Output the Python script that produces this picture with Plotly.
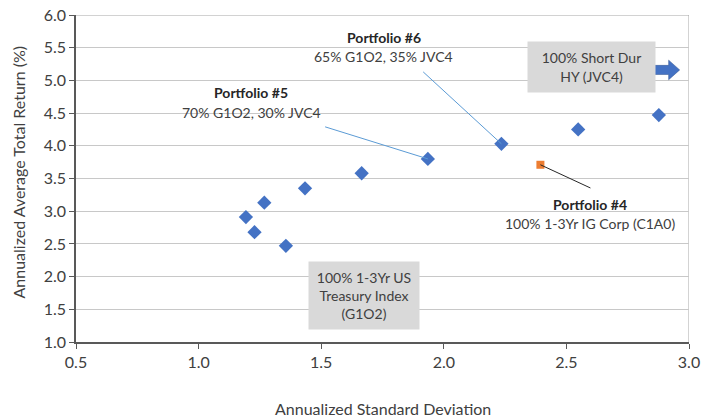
import plotly.graph_objects as go

# data
std_dev = [1.193, 1.228, 1.268, 1.356, 1.434, 1.665, 1.935, 2.235, 2.548, 2.877]
avg_return = [2.91, 2.68, 3.13, 2.47, 3.35, 3.58, 3.80, 4.03, 4.25, 4.47]
ig_std = [2.394]
ig_ret = [3.71]

x_ticks = [0.5, 1.0, 1.5, 2.0, 2.5, 3.0]
y_ticks = [1.0, 1.5, 2.0, 2.5, 3.0, 3.5, 4.0, 4.5, 5.0, 5.5, 6.0]

FONT = "Lato"
TXT = "#404040"
BLUE = "#4472C4"
ORANGE = "#ED7D31"

fig = go.Figure()
fig.add_trace(go.Scatter(x=std_dev, y=avg_return, mode="markers",
                         marker=dict(symbol="diamond", size=11, color=BLUE),
                         showlegend=False, cliponaxis=False))
fig.add_trace(go.Scatter(x=ig_std, y=ig_ret, mode="markers",
                         marker=dict(symbol="square", size=8, color=ORANGE),
                         showlegend=False, cliponaxis=False))

shapes = []
shapes.append(dict(type="line", xref="x", yref="y", x0=3.0, x1=3.0, y0=1.0, y1=6.0,
                   line=dict(color="#A6A6A6", width=1), layer="below"))
shapes.append(dict(type="line", xref="x", yref="y", x0=0.5, x1=3.0, y0=6.0, y1=6.0,
                   line=dict(color="#A6A6A6", width=1), layer="below"))
shapes.append(dict(type="line", xref="x", yref="y", x0=1.916, y0=5.13, x1=std_dev[7], y1=avg_return[7],
                   line=dict(color="#5B9BD5", width=1)))
shapes.append(dict(type="line", xref="x", yref="y", x0=1.516, y0=4.29, x1=std_dev[6], y1=avg_return[6],
                   line=dict(color="#5B9BD5", width=1)))
shapes.append(dict(type="line", xref="x", yref="y", x0=ig_std[0], y0=ig_ret[0], x1=2.598, y1=3.355,
                   line=dict(color="#262626", width=1)))
ay = 5.16
shapes.append(dict(type="path", xref="x", yref="y",
                   path=f"M 2.851 {ay-0.07} L 2.917 {ay-0.07} L 2.917 {ay-0.15} L 2.962 {ay} "
                        f"L 2.917 {ay+0.15} L 2.917 {ay+0.07} L 2.851 {ay+0.07} Z",
                   fillcolor=BLUE, line=dict(color="#2F528F", width=0.5)))

ann = []
def lab(x, y, text, bold=False, size=14):
    t = f"<b>{text}</b>" if bold else text
    ann.append(dict(x=x, y=y, xref="x", yref="y", text=t, showarrow=False,
                    font=dict(family=FONT, size=size, color="#262626" if bold else TXT),
                    xanchor="center", yanchor="middle"))

lab(1.755, 5.66, "Portfolio #6", bold=True)
lab(1.755, 5.36, "65% G1O2, 35% JVC4")
lab(1.215, 4.81, "Portfolio #5", bold=True)
lab(1.215, 4.51, "70% G1O2, 30% JVC4")
lab(2.598, 3.10, "Portfolio #4", bold=True)
lab(2.598, 2.81, "100% 1-3Yr IG Corp (C1A0)")

ann.append(dict(x=2.604, y=5.20, xref="x", yref="y", showarrow=False,
                text="100% Short Dur<br>HY (JVC4)", align="center",
                width=125, height=48, bgcolor="#D9D9D9",
                font=dict(family=FONT, size=14, color=TXT)))
ann.append(dict(x=1.676, y=1.71, xref="x", yref="y", showarrow=False,
                text="100% 1-3Yr US<br>Treasury Index<br>(G1O2)", align="center",
                width=108, height=65, bgcolor="#D9D9D9",
                font=dict(family=FONT, size=14, color=TXT)))
# axis titles
ann.append(dict(x=0.5, y=0, xref="paper", yref="paper", yanchor="middle", xanchor="center",
                yshift=-66, showarrow=False, text="Annualized Standard Deviation",
                font=dict(family=FONT, size=16, color=TXT)))
ann.append(dict(x=0, y=0.5, xref="paper", yref="paper", xanchor="center", yanchor="middle",
                xshift=-58, yshift=6, showarrow=False, textangle=-90,
                text="Annualized Average Total Return (%)",
                font=dict(family=FONT, size=16, color=TXT)))

fig.update_layout(
    width=701, height=417,
    margin=dict(l=76, r=12, t=15, b=75, autoexpand=False),
    paper_bgcolor="white", plot_bgcolor="white",
    font=dict(family=FONT, size=16, color=TXT),
    shapes=shapes, annotations=ann,
    xaxis=dict(range=[0.5, 3.0], tickvals=x_ticks, ticktext=[f"{v:.1f}" for v in x_ticks],
               showgrid=False, zeroline=False, showline=True, linecolor="#595959", linewidth=1.5,
               ticks="outside", ticklen=5, tickcolor="#595959", automargin=False,
               tickfont=dict(family=FONT, size=16, color=TXT)),
    yaxis=dict(range=[1.0, 6.0], tickvals=y_ticks, ticktext=[f"{v:.1f}" for v in y_ticks],
               showgrid=True, gridcolor="#C8C8C8", gridwidth=1, zeroline=False,
               showline=True, linecolor="#595959", linewidth=1.5, automargin=False,
               ticks="outside", ticklen=5, tickcolor="#595959",
               tickfont=dict(family=FONT, size=16, color=TXT)),
)

fig.write_html("out.html", config={"displayModeBar": False},
               post_script="document.body.style.margin='0';")
